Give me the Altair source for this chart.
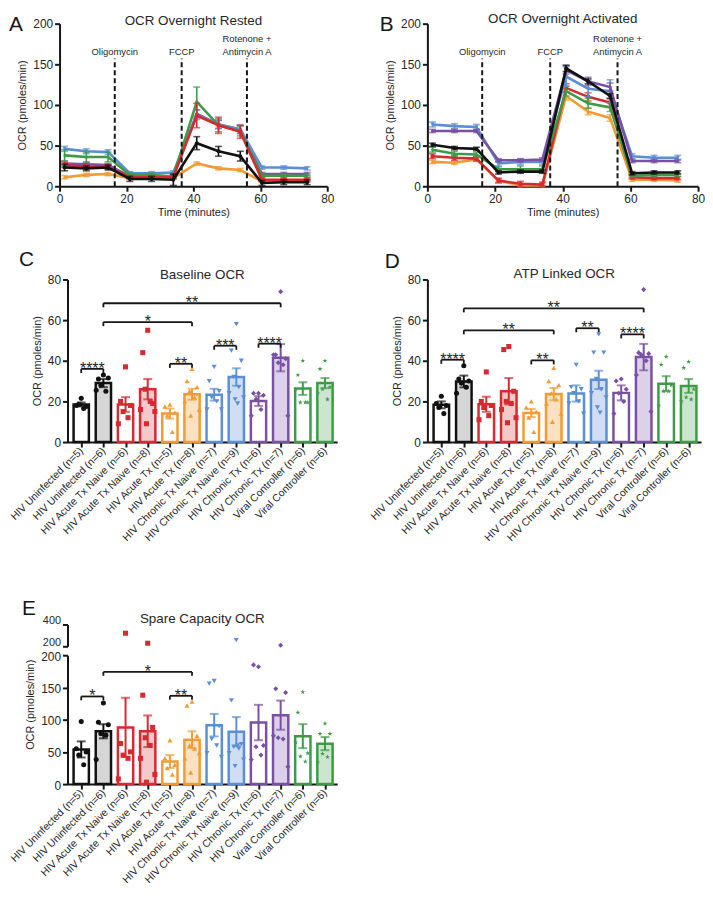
import json
import altair as alt
import pandas as pd

FONT = "Liberation Sans"
INK = "#161616"
TXT = "#262626"

# group order: uninfected, acute Tx naive, acute Tx, chronic Tx naive, chronic Tx, viral controller
group_colors = ["#111111", "#d62a30", "#f29b34", "#5b8fd5", "#7a50a4", "#3e9a46"]
group_tints = ["#d6d6d6", "#f3c9ca", "#fbe1c2", "#d0ddf3", "#dcd1e9", "#cde5cf"]
STAR = "M0,-1L0.235,-0.324L0.951,-0.309L0.38,0.124L0.588,0.809L0,0.4L-0.588,0.809L-0.38,0.124L-0.951,-0.309L-0.235,-0.324Z"
group_shapes = ["circle", "square", "triangle-up", "triangle-down", "diamond", STAR]

# ---------------- time courses (A, B) ----------------
times = [1.5, 8, 14.5, 21, 27.5, 34, 41, 47.5, 54, 60.5, 67, 74]

a_black = [23, 22, 23, 9, 9, 8, 53, 43, 37, 4, 5, 5]
a_black_se = [4, 3, 3, 3, 3, 7, 8, 6, 6, 3, 3, 3]
a_red = [26, 24, 24, 11, 11, 11, 87, 75, 67, 8, 8, 8]
a_red_se = [3, 3, 3, 2, 2, 2, 15, 10, 8, 2, 2, 2]
a_orange = [11, 14, 15, 10, 10, 10, 28, 22, 20, 6, 6, 6]
a_orange_se = [2, 2, 2, 1, 1, 1, 2, 2, 2, 1, 1, 1]
a_blue = [46, 43, 42, 16, 16, 17, 88, 76, 70, 23, 23, 22]
a_blue_se = [3, 3, 3, 2, 2, 2, 6, 5, 5, 2, 2, 2]
a_purple = [28, 27, 26, 12, 12, 12, 89, 76, 70, 15, 15, 15]
a_purple_se = [3, 2, 2, 2, 2, 2, 5, 5, 5, 2, 2, 2]
a_green = [38, 36, 36, 14, 14, 12, 104, 75, 68, 13, 13, 13]
a_green_se = [7, 6, 6, 2, 2, 2, 18, 8, 6, 2, 2, 2]

b_black = [51, 47, 46, 17, 18, 18, 145, 129, 111, 16, 17, 17]
b_black_se = [2, 2, 2, 2, 2, 2, 4, 3, 3, 2, 2, 2]
b_red = [37, 35, 34, 7, 3, 2, 121, 110, 103, 11, 10, 10]
b_red_se = [3, 3, 3, 3, 3, 3, 5, 5, 5, 2, 2, 2]
b_orange = [30, 29, 33, 7, 1, 1, 111, 92, 84, 8, 8, 7]
b_orange_se = [2, 2, 2, 2, 2, 2, 5, 4, 4, 2, 2, 2]
b_blue = [76, 74, 73, 28, 30, 30, 135, 120, 117, 37, 35, 35]
b_blue_se = [3, 3, 3, 3, 3, 3, 12, 10, 14, 3, 3, 3]
b_purple = [68, 68, 68, 32, 32, 33, 143, 129, 122, 31, 31, 31]
b_purple_se = [2, 2, 2, 2, 2, 2, 5, 5, 5, 2, 2, 2]
b_green = [45, 40, 39, 21, 21, 21, 117, 102, 97, 13, 14, 14]
b_green_se = [3, 3, 3, 3, 4, 4, 6, 6, 5, 2, 2, 2]

inj_a = [16.5, 36.5, 56.0]
inj_b = [16.2, 36.3, 56.2]
inj_names = ["Oligomycin", "FCCP", "Rotenone +", "Antimycin A"]
inj_label_y = [161, 161, 177, 162]

# ---------------- bar panels (C, D, E) ----------------
bar_labels = ["HIV Uninfected (n=5)", "HIV Uninfected (n=6)",
              "HIV Acute Tx Naive (n=6)", "HIV Acute Tx Naive (n=8)",
              "HIV Acute Tx (n=5)", "HIV Acute Tx (n=8)",
              "HIV Chronic Tx Naive (n=7)", "HIV Chronic Tx Naive (n=9)",
              "HIV Chronic Tx (n=6)", "HIV Chronic Tx (n=7)",
              "Viral Controller (n=6)", "Viral Controller (n=6)"]

c_means = [18.5, 29, 18.5, 26, 14, 23.5, 23.3, 32, 20.2, 41.5, 26.3, 29]
c_sems = [1.0, 2.0, 3.6, 5.0, 2.5, 2.7, 2.9, 4.3, 2.4, 6.7, 3.1, 2.5]
c_pts = [[21.5, 18, 17.5, 18.5, 16.5],
         [33, 31, 31.5, 28, 25, 25.5],
         [37, 20, 18, 15, 12, 9],
         [55, 44, 19, 26, 20, 16, 15, 9],
         [18.5, 17.5, 14.5, 13, 5],
         [36, 30, 27, 25, 22, 20, 16, 13],
         [37, 30, 25, 22, 20, 16, 16],
         [58, 45, 40, 32, 27, 24, 22, 21, 19],
         [24, 24, 23, 21, 16, 13],
         [74, 43, 41, 39, 38, 43, 13],
         [40, 33, 19.5, 19.5, 19.5, 26],
         [40, 36, 27, 26, 21, 24]]
c_brackets = [(0, 1, 36, "****"), (1, 5, 59, "*"), (1, 9, 68.3, "**"),
              (4, 5, 38.5, "**"), (6, 7, 47.4, "***"), (8, 9, 48.4, "****")]

d_means = [18.3, 29.8, 18.6, 25, 14.3, 23.6, 23.9, 30.6, 24.2, 41.8, 28.7, 27.6]
d_sems = [1.7, 2.9, 3.7, 6.5, 2.0, 3.0, 4.0, 4.5, 3.7, 6.5, 3.7, 3.4]
d_pts = [[22.5, 19, 18, 17, 14],
         [37.5, 31, 30, 29, 27, 24],
         [34.5, 20, 18, 17, 13, 11],
         [47, 45.5, 25, 20, 19, 16, 12, 9.5],
         [20, 17, 15, 12, 5],
         [36.5, 30, 28, 24, 21, 19, 14, 10],
         [38, 27, 26, 24, 20, 19, 14],
         [53, 44, 44, 31, 26, 24, 22, 17, 14.5],
         [31, 30, 26, 24, 20, 14],
         [75, 44, 43.5, 43, 40, 33, 15],
         [42, 38, 28, 25, 25, 18],
         [39.5, 36.5, 26, 22, 21, 20]]
d_brackets = [(0, 1, 40.5, "****"), (1, 9, 65.8, "**"), (1, 5, 55, "**"),
              (4, 5, 40.2, "**"), (6, 7, 56, "**"), (8, 9, 53, "****")]

e_means = [53.8, 82, 88, 82, 35, 69, 91.5, 81.4, 95.5, 107, 74.4, 62.8]
e_sems = [12.5, 11, 46, 24.5, 10, 13, 17.5, 22.6, 27.5, 22.6, 18.6, 10.2]
e_pts = [[97, 55, 50, 45, 30],
         [126, 96, 92, 78, 76, 38],
         [320, 63, 50, 45, 40, 8],
         [228, 138, 88, 72, 60, 40, 15, 3],
         [68, 40, 30, 25, 15],
         [128, 122, 75, 60, 55, 40, 48, 18],
         [160, 156, 90, 70, 60, 48, 42],
         [257, 130, 62, 58, 55, 48, 38, 28, 60],
         [182, 185, 60, 58, 45, 38],
         [210, 148, 142, 72, 70, 75, 27],
         [143, 111, 48, 43, 35, 65],
         [94, 78, 78, 47, 42, 34]]
e_brackets = [(0, 1, 136, "*"), (1, 5, 174, "*"), (4, 5, 137, "**")]

JIT = [0.0, -0.62, 0.62, -0.31, 0.31, -0.9, 0.9, -0.16, 0.16]
XDOM = [-0.62, 11.55]
YTITLE = "OCR (pmoles/min)"


def text_layer(txt, x, y, size, align="left", color=INK):
    return alt.Chart(pd.DataFrame({"s": [txt]})).mark_text(
        fontSize=size, align=align, baseline="alphabetic", color=color, font=FONT
    ).encode(x=alt.value(x), y=alt.value(y), text="s:N")


def ts_panel(series, inj, title, letter, W, H, title_y, let_x, let_y):
    xs = alt.Scale(domain=[0, 80], nice=False, zero=False)
    ys = alt.Scale(domain=[0, 200], nice=False, clamp=True)
    xax = alt.Axis(values=[0, 20, 40, 60, 80], title="Time (minutes)", titlePadding=3)
    yax = alt.Axis(values=[0, 50, 100, 150, 200], title=YTITLE, titlePadding=5)

    def X(f):
        return alt.X(f + ":Q", scale=xs, axis=xax)

    def Y(f):
        return alt.Y(f + ":Q", scale=ys, axis=yax)

    layers = []
    for g, m, se in series:
        df = pd.DataFrame({"t": times, "m": m,
                           "lo": [a - b for a, b in zip(m, se)],
                           "hi": [a + b for a, b in zip(m, se)]})
        col = group_colors[g]
        base = alt.Chart(df)
        layers.append(base.mark_rule(color=col, strokeWidth=1.6).encode(
            x=X("t"), y=Y("lo"), y2=alt.Y2("hi")))
        for f in ("lo", "hi"):
            layers.append(base.mark_tick(color=col, thickness=1.6, size=7, orient="horizontal").encode(
                x=X("t"), y=Y(f)))
        layers.append(base.mark_line(color=col, strokeWidth=2.6).encode(x=X("t"), y=Y("m")))
        layers.append(base.mark_point(color=col, filled=True, opacity=1, size=16,
                                      shape=group_shapes[g]).encode(x=X("t"), y=Y("m")))
    inj_df = pd.DataFrame({"t": inj, "y0": [0] * len(inj), "y1": [157] * len(inj)})
    layers.append(alt.Chart(inj_df).mark_rule(color=INK, strokeWidth=2, strokeDash=[5, 3]).encode(
        x=X("t"), y=Y("y0"), y2=alt.Y2("y1")))
    lab_df = pd.DataFrame({"t": [inj[0], inj[1], inj[2], inj[2]], "y": inj_label_y, "s": inj_names})
    layers.append(alt.Chart(lab_df).mark_text(fontSize=9.5, color=TXT, font=FONT, baseline="alphabetic").encode(
        x=X("t"), y=Y("y"), text="s:N"))
    layers.append(text_layer(title, W / 2, title_y, 13.5, align="center", color=TXT))
    layers.append(text_layer(letter, let_x, let_y, 21))
    return alt.layer(*layers).properties(width=W, height=H)


def bar_x(show, shift):
    sc = alt.Scale(domain=XDOM, nice=False, zero=False, rangeMin=shift)
    if show:
        ax = alt.Axis(values=list(range(12)), labelExpr=json.dumps(bar_labels) + "[datum.value]",
                      labelAngle=-45, labelAlign="right", labelBaseline="middle",
                      labelFontSize=10.5, labelPadding=2, title=None)
        return lambda f: alt.X(f + ":Q", scale=sc, axis=ax)
    return lambda f: alt.X(f + ":Q", scale=sc, axis=None)


def pts_layer(pts, lo, hi, X, Y):
    rows = {"xj": [], "v": [], "col": [], "shp": []}
    for k, vals in enumerate(pts):
        for i, v in enumerate(vals):
            if lo <= v <= hi:
                rows["xj"].append(k + JIT[i % len(JIT)] * 0.36)
                rows["v"].append(v)
                rows["col"].append(group_colors[k // 2])
                rows["shp"].append(group_shapes[k // 2])
    return alt.Chart(pd.DataFrame(rows)).mark_point(filled=True, opacity=1, size=26).encode(
        x=X("xj"), y=Y("v"), color=alt.Color("col:N", scale=None), shape=alt.Shape("shp:N", scale=None))


def bar_panel(means, sems, pts, brackets, ydom, yvals, W, H, drop, shift, title=None, letter=None,
              title_y=0, let_x=0, let_y=0, title_pos=None, pt_max=1e9):
    X = bar_x(True, shift)
    ys = alt.Scale(domain=ydom, nice=False, zero=False, clamp=True)
    if title_pos is None:
        yax = alt.Axis(values=yvals, title=YTITLE, titlePadding=5, offset=-shift)
    else:
        yax = alt.Axis(values=yvals, title=YTITLE, titlePadding=5, offset=-shift, titleY=title_pos,
                       labelOffset=1)

    def Y(f):
        return alt.Y(f + ":Q", scale=ys, axis=yax)

    ks = list(range(len(means)))
    bdf = pd.DataFrame({
        "k": ks, "x0": [k - 0.345 for k in ks], "x1": [k + 0.345 for k in ks],
        "m": means, "zero": [0] * len(ks),
        "lo": [m - s for m, s in zip(means, sems)], "hi": [m + s for m, s in zip(means, sems)],
        "col": [group_colors[k // 2] for k in ks],
        "fill": ["#ffffff" if k % 2 == 0 else group_tints[k // 2] for k in ks],
    })
    base = alt.Chart(bdf)
    layers = [
        base.mark_bar(strokeWidth=2.5).encode(
            x=X("x0"), x2=alt.X2("x1"), y=Y("m"), y2=alt.Y2("zero"),
            fill=alt.Fill("fill:N", scale=None), stroke=alt.Stroke("col:N", scale=None)),
        base.mark_rule(strokeWidth=2).encode(x=X("k"), y=Y("lo"), y2=alt.Y2("hi"),
                                             color=alt.Color("col:N", scale=None)),
    ]
    for f in ("lo", "hi"):
        layers.append(base.mark_tick(thickness=2, size=9, orient="horizontal").encode(
            x=X("k"), y=Y(f), color=alt.Color("col:N", scale=None)))
    layers.append(pts_layer(pts, ydom[0], min(ydom[1], pt_max), X, Y))
    brdf = pd.DataFrame({"a": [b[0] for b in brackets], "b": [b[1] for b in brackets],
                         "y": [b[2] for b in brackets], "yd": [b[2] - drop for b in brackets],
                         "mid": [(b[0] + b[1]) / 2 for b in brackets], "lab": [b[3] for b in brackets]})
    bb = alt.Chart(brdf)
    layers += [
        bb.mark_rule(color=INK, strokeWidth=1.8).encode(x=X("a"), x2=alt.X2("b"), y=Y("y")),
        bb.mark_rule(color=INK, strokeWidth=1.8).encode(x=X("a"), y=Y("y"), y2=alt.Y2("yd")),
        bb.mark_rule(color=INK, strokeWidth=1.8).encode(x=X("b"), y=Y("y"), y2=alt.Y2("yd")),
        bb.mark_text(fontSize=16, dy=5, baseline="alphabetic", color=TXT, font=FONT).encode(
            x=X("mid"), y=Y("y"), text="lab:N"),
    ]
    if title:
        layers.append(text_layer(title, shift + (W - shift) / 2, title_y, 13.5, align="center", color=TXT))
    if letter:
        layers.append(text_layer(letter, let_x, let_y, 21))
    return alt.layer(*layers).properties(width=W, height=H)


def spacer(w, h):
    return alt.Chart(pd.DataFrame({"a": [0]})).mark_point(opacity=0).encode(
        x=alt.X("a:Q", axis=None), y=alt.Y("a:Q", axis=None)).properties(width=w, height=h)


SH = 8  # left offset of C and E plot areas relative to A

A = ts_panel([(2, a_orange, a_orange_se), (4, a_purple, a_purple_se), (3, a_blue, a_blue_se),
              (5, a_green, a_green_se), (1, a_red, a_red_se), (0, a_black, a_black_se)],
             inj_a, "OCR Overnight Rested", "A", 270, 164, 1, -51, 7)
B = ts_panel([(2, b_orange, b_orange_se), (1, b_red, b_red_se), (5, b_green, b_green_se),
              (3, b_blue, b_blue_se), (4, b_purple, b_purple_se), (0, b_black, b_black_se)],
             inj_b, "OCR Overnight Activated", "B", 273, 164, -1, -48, 7)

C = bar_panel(c_means, c_sems, c_pts, c_brackets, [0, 80], [0, 20, 40, 60, 80], 272 + SH, 164, 2.0, SH,
              "Baseline OCR", "C", 0, -41, -14)
D = bar_panel(d_means, d_sems, d_pts, d_brackets, [0, 80], [0, 20, 40, 60, 80], 276, 164, 2.0, 0,
              "ATP Linked OCR", "D", -1, -43, -12)

# panel E: broken axis, upper segment 200-400
EW, EH_TOP, EH_LOW, EGAP = 272 + SH, 22, 130, 9
Xn = bar_x(False, SH)
ys_top = alt.Scale(domain=[200, 400], nice=False, zero=False)
yax_top = alt.Axis(values=[200, 400], title=None, offset=-SH, labelOffset=-4, labelFontSize=11)
E_top = alt.layer(
    pts_layer(e_pts, 200.01, 400, Xn, lambda f: alt.Y(f + ":Q", scale=ys_top, axis=yax_top)),
    text_layer("Spare Capacity OCR", SH + (EW - SH) / 2, -1, 13.5, align="center", color=TXT),
    text_layer("E", -38, -10, 21),
).properties(width=EW, height=EH_TOP)
E_low = bar_panel(e_means, e_sems, e_pts, e_brackets, [0, 200], [0, 50, 100, 150, 200], EW, EH_LOW, 6, SH,
                  title_pos=(EH_LOW - EH_TOP - EGAP) / 2, pt_max=200)

ROWGAP = 9
grid = alt.concat(
    A, B,
    spacer(1, 94 - 2 * ROWGAP), spacer(1, 1),
    C, D,
    spacer(1, 184 - 2 * ROWGAP), spacer(1, 1),
    E_top, spacer(1, 1),
    E_low, spacer(1, 1),
    columns=2, spacing={"row": ROWGAP, "column": 91}, bounds="flush", align="each",
).properties(padding=0)

chart = grid.configure_view(stroke=None).configure_axis(
    domainColor=INK, domainWidth=2, tickColor=INK, tickWidth=2, tickSize=5, grid=False,
    labelFont=FONT, titleFont=FONT, labelFontSize=12, titleFontSize=11,
    labelColor=TXT, titleColor=TXT, titleFontWeight="normal",
    labelFlush=False, labelOverlap=False, labelPadding=2,
).configure_text(font=FONT)

chart.save("out.html", embed_options={"renderer": "svg", "actions": False})
